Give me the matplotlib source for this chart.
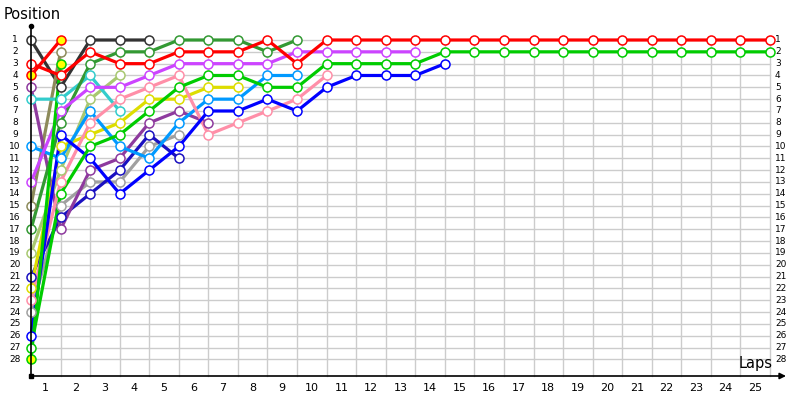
import matplotlib
matplotlib.use("Agg")
import matplotlib.pyplot as plt

# ---- data: position per lap, index 0 = grid, index k = after lap k ----
laps = list(range(0, 26))
pos_labels = list(range(1, 29))

red_a      = [3, 4, 2, 3, 3, 2, 2, 2, 1, 3, 1, 1, 1, 1, 1, 1, 1, 1, 1, 1, 1, 1, 1, 1, 1, 1]
green_a    = [27, 14, 10, 9, 7, 5, 4, 4, 5, 5, 3, 3, 3, 3, 2, 2, 2, 2, 2, 2, 2, 2, 2, 2, 2, 2]
magenta    = [13, 7, 5, 5, 4, 3, 3, 3, 3, 2, 2, 2, 2, 2]
blue       = [26, 9, 11, 14, 12, 10, 7, 7, 6, 7, 5, 4, 4, 4, 3]
pink       = [23, 13, 8, 6, 5, 4, 9, 8, 7, 6, 4]
dark_green = [17, 8, 3, 2, 2, 1, 1, 1, 2, 1]
light_blue = [10, 11, 7, 10, 11, 8, 6, 6, 4, 4]
yellow     = [22, 10, 9, 8, 6, 6, 5, 5]
purple     = [5, 17, 12, 11, 8, 7, 8]
gray       = [24, 15, 13, 13, 10, 9]
navy       = [21, 16, 14, 12, 9, 11]
dark_gray  = [1, 5, 1, 1, 1]
cyan       = [6, 6, 4, 7]
light_olive = [19, 12, 6, 4]
olive      = [15, 2]
red_b      = [4, 1]
green_b    = [28, 3]

series = [
    (dark_gray, "#333333", "white"),
    (olive, "#8c8a5a", "white"),
    (light_olive, "#a8c870", "white"),
    (cyan, "#33cccc", "white"),
    (gray, "#a0a0a0", "white"),
    (navy, "#1a10c0", "white"),
    (purple, "#8e3a9e", "white"),
    (yellow, "#dddd00", "white"),
    (light_blue, "#0099ff", "white"),
    (dark_green, "#339933", "white"),
    (pink, "#ff8fa8", "white"),
    (blue, "#0000ff", "white"),
    (magenta, "#cc44ff", "white"),
    (green_a, "#00cc00", "white"),
    (red_a, "#ff0000", "white"),
    (red_b, "#ff0000", "#ffff00"),
    (green_b, "#00cc00", "#ffff00"),
]

# ---- layout (pixel mapping) ----
X0, DX = 31.0, 29.56   # pixel x of lap 0, pixels per lap
Y0, DY = 40.0, 11.83   # pixel y of position 1, pixels per position

def px(x):
    return (x - X0) / DX

def py(y):
    return 1 + (y - Y0) / DY

fig = plt.figure(figsize=(8, 4), dpi=100)
ax = fig.add_axes([0, 0, 1, 1])
ax.set_xlim(px(0), px(800))
ax.set_ylim(py(400), py(0))
ax.axis("off")

grid_c = "#cccccc"
last_lap = laps[-1]
# horizontal gridlines
for p in pos_labels:
    ax.plot([0, last_lap], [p, p], color=grid_c, lw=1, zorder=1)
# vertical gridlines
for k in laps[1:]:
    ax.plot([k, k], [1, py(376)], color=grid_c, lw=1, zorder=1)

# axes
ax.plot([0, 0], [py(26), py(376)], color="black", lw=1.2, zorder=5)
ax.plot([0], [py(26)], marker="o", ms=3, color="black", zorder=5)
ax.annotate("", xy=(px(786), py(376)), xytext=(0, py(376)),
            arrowprops=dict(arrowstyle="-|>", color="black", lw=1.2,
                            mutation_scale=9, shrinkA=0, shrinkB=0), zorder=5)
ax.plot([0], [py(376)], marker="s", ms=2.5, color="black", zorder=5)

# series
for vals, col, face in series:
    xs = laps[:len(vals)]
    ax.plot(xs, vals, color=col, lw=2.3, solid_capstyle="round", zorder=3)
for vals, col, face in series:
    xs = laps[:len(vals)]
    ax.plot(xs, vals, ls="none", marker="o", ms=6.5, mfc=face, mec=col,
            mew=1.1, zorder=4)

# tick labels
for p in pos_labels:
    ax.text(px(15), p, str(p), ha="center", va="center", fontsize=6.5, color="black")
    ax.text(px(775), p, str(p), ha="left", va="center", fontsize=6.5, color="black")
for k in laps[1:]:
    ax.text(k - 0.5, py(388), str(k), ha="center", va="center", fontsize=8, color="black")

ax.text(px(4), py(15), "Position", ha="left", va="center", fontsize=10.5, color="black")
ax.text(px(773), py(364), "Laps", ha="right", va="center", fontsize=10.5, color="black")

fig.savefig("out.png", dpi=100)
